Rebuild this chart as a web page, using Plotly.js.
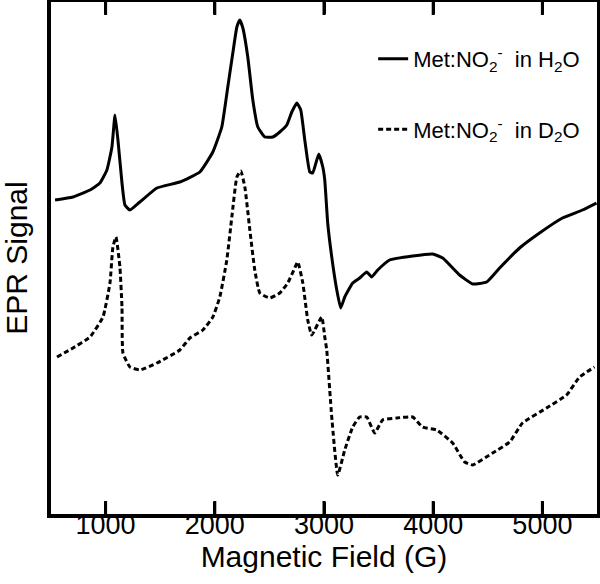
<!DOCTYPE html>
<html>
<head>
<meta charset="utf-8">
<script src="https://cdn.plot.ly/plotly-3.0.1.min.js"></script>
<style>
  html, body { margin: 0; padding: 0; background: #fff; }
  #chart { width: 600px; height: 584px; }
</style>
</head>
<body>
<div id="chart"></div>
<script>
// field values (G) and signal (arbitrary units)
const fieldH2O = [537, 701, 857, 948, 1012, 1058, 1086, 1113, 1150, 1177, 1223, 1314, 1470, 1680, 1863, 1982, 2064, 2119, 2165, 2202, 2229, 2257, 2302, 2348, 2394, 2458, 2531, 2595, 2659, 2705, 2751, 2787, 2824, 2870, 2897, 2952, 2989, 3007, 3034, 3071, 3117, 3153, 3190, 3263, 3327, 3391, 3437, 3492, 3601, 3812, 3995, 4087, 4242, 4361, 4489, 4608, 4791, 4974, 5184, 5367, 5495];
const signalH2O = [314, 317, 324, 331, 344, 367, 399, 374, 331, 309, 304, 312, 326, 332, 342, 362, 387, 427, 461, 487, 494, 486, 457, 414, 387, 377, 377, 382, 389, 402, 411, 404, 374, 342, 341, 360, 347, 334, 291, 257, 224, 206, 217, 231, 236, 242, 237, 244, 254, 258, 260, 256, 239, 230, 232, 246, 266, 281, 296, 304, 311];

const fieldD2O = [555, 701, 857, 976, 1040, 1067, 1095, 1131, 1150, 1159, 1223, 1314, 1470, 1680, 1772, 1891, 1982, 2046, 2110, 2156, 2202, 2238, 2275, 2321, 2366, 2412, 2504, 2595, 2668, 2732, 2760, 2806, 2851, 2888, 2979, 3007, 3025, 3071, 3126, 3190, 3263, 3327, 3391, 3464, 3537, 3666, 3812, 3903, 4032, 4178, 4288, 4361, 4544, 4700, 4818, 5038, 5221, 5340, 5477];
const signalD2O = [157, 166, 177, 197, 231, 267, 277, 247, 207, 161, 147, 144, 151, 164, 176, 184, 197, 217, 254, 297, 337, 343, 327, 284, 244, 221, 216, 221, 231, 246, 252, 231, 194, 179, 197, 177, 164, 97, 39, 64, 87, 97, 97, 81, 94, 96, 97, 87, 84, 71, 52, 49, 61, 72, 91, 106, 119, 137, 147];

const xTicks = [1000, 2000, 3000, 4000, 5000];
const yRange = [0, 512];

// inward tick marks on bottom and top frame, as short segments
const tickLen = 13;
const tickX = [];
const tickY = [];
xTicks.forEach((v) => {
  tickX.push(v, v, null, v, v, null);
  tickY.push(yRange[0], yRange[0] + tickLen, null, yRange[1], yRange[1] - tickLen, null);
});

const data = [
  {
    name: 'Met:NO<sub>2</sub><sup>-</sup>  in H<sub>2</sub>O',
    x: fieldH2O,
    y: signalH2O,
    mode: 'lines',
    line: { color: 'black', width: 3, shape: 'spline', smoothing: 0.4 },
    legendgroup: 'a',
  },
  {
    name: 'Met:NO<sub>2</sub><sup>-</sup>  in D<sub>2</sub>O',
    x: fieldD2O,
    y: signalD2O,
    mode: 'lines',
    line: { color: 'black', width: 3, dash: '5px,3px', shape: 'spline', smoothing: 0.4 },
    legendgroup: 'b',
  },
  {
    x: tickX,
    y: tickY,
    mode: 'lines',
    line: { color: 'black', width: 3 },
    connectgaps: false,
    showlegend: false,
    hoverinfo: 'skip',
  },
];

const layout = {
  width: 600,
  height: 584,
  margin: { l: 51, r: 3, t: 2, b: 70 },
  paper_bgcolor: 'white',
  plot_bgcolor: 'white',
  font: { family: 'Liberation Sans, Arial, sans-serif', color: 'black' },
  showlegend: true,
  legend: {
    x: 0.59,
    y: 0.93,
    xanchor: 'left',
    yanchor: 'top',
    bgcolor: 'rgba(0,0,0,0)',
    font: { size: 22 },
    tracegroupgap: 39,
    traceorder: 'grouped',
  },
  xaxis: {
    range: [500, 5500],
    tickvals: xTicks,
    ticks: 'inside',
    ticklen: 12,
    tickwidth: 2.5,
    tickcolor: 'black',
    ticklabelstandoff: -16,
    showline: true,
    linewidth: 4,
    linecolor: 'black',
    mirror: 'allticks',
    showgrid: false,
    zeroline: false,
    tickfont: { size: 27 },
    title: { text: 'Magnetic Field (G)', font: { size: 30 }, standoff: 3 },
  },
  yaxis: {
    range: yRange,
    showticklabels: false,
    showline: true,
    linewidth: 4,
    linecolor: 'black',
    mirror: true,
    showgrid: false,
    zeroline: false,
    title: { text: 'EPR Signal', font: { size: 30 }, standoff: 12 },
  },
};

Plotly.newPlot('chart', data, layout, { displayModeBar: false });
</script>
</body>
</html>
